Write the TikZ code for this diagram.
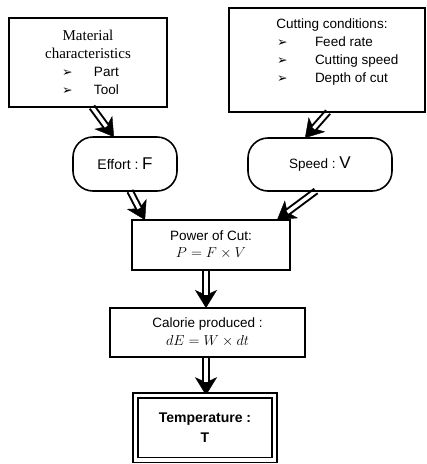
\documentclass[tikz,border=0pt]{standalone}
\usepackage{fontspec}
\setmainfont{Liberation Sans}
\newfontfamily\seriffont{Liberation Serif}
\newfontfamily\symfont{DejaVu Sans}
\usetikzlibrary{arrows.meta,backgrounds}

% arrowhead bullet used in the list boxes
\newcommand{\arrbul}{{\symfont\fontsize{12.5}{12}\selectfont ➢}}

\tikzset{
  box/.style={draw, line width=2pt, inner sep=0pt, outer sep=0pt, align=center,
    font=\fontsize{13.5}{18}\selectfont},
  pill/.style={draw, line width=1.6pt, rounded corners=20pt, inner sep=0pt, outer sep=0pt},
  resultbox/.style={draw, line width=1.5pt, double, double distance=3.5pt,
    inner sep=0pt, outer sep=0pt, align=center, font=\fontsize{14}{20}\selectfont\bfseries},
  shaft/.style={line width=2pt, double=white, double distance=3.5pt, shorten >=13pt},
  tiphead/.style={line width=0.4pt, -{Stealth[length=18pt,width=22pt,inset=5pt]}},
}

\begin{document}
\begin{tikzpicture}[x=1pt, y=1pt]
\useasboundingbox (0,0) rectangle (427,-464);

% inputs
\node[box, minimum width=158pt, minimum height=89pt] (mat) at (88,-62.5)
  {{\seriffont\fontsize{15}{18}\selectfont Material}\\
   {\seriffont\fontsize{15}{18}\selectfont characteristics}\\
   \makebox[52pt][l]{\makebox[32pt][l]{\arrbul}Part}\\
   \makebox[52pt][l]{\makebox[32pt][l]{\arrbul}Tool}};

\node[box, minimum width=196pt, minimum height=104pt] (cut) at (327,-60)
  {\hspace*{10pt}Cutting conditions:\\
   \makebox[100pt][l]{\makebox[38pt][l]{\arrbul}Feed rate}\\
   \makebox[100pt][l]{\makebox[38pt][l]{\arrbul}Cutting speed}\\
   \makebox[100pt][l]{\makebox[38pt][l]{\arrbul}Depth of cut}\\
   \mbox{}};

% intermediate quantities
\node[pill, minimum width=104pt, minimum height=54pt] (eff) at (125,-164)
  {{\fontsize{14}{16}\selectfont Effort :} {\fontsize{17}{20}\selectfont F}};
\node[pill, minimum width=144pt, minimum height=53pt] (spd) at (320,-164.5)
  {{\fontsize{13.5}{16}\selectfont Speed :} {\fontsize{17}{20}\selectfont V}};

\node[box, minimum width=158pt, minimum height=50pt] (pow) at (211,-245)
  {Power of Cut:\\[-1pt] $P = F \times V$};
\node[box, minimum width=195pt, minimum height=49pt] (cal) at (207.5,-332.5)
  {Calorie produced :\\ $dE = W \times dt$};

% result
\node[resultbox, minimum width=139pt, minimum height=64.5pt] (tem) at (205,-427.5)
  {Temperature :\\T};

% double-shafted arrows, drawn beneath the node borders
\begin{scope}[on background layer]
  \foreach \src/\sx/\dst/\dx in {mat/4/eff/-11, eff/5/pow/-66, cut/1/spd/-15,
                                 spd/-4/pow/66, pow/-5/cal/-1.5, cal/-1.5/tem/1} {
    \draw[tiphead] ([xshift=\sx pt]\src.south) -- ([xshift=\dx pt]\dst.north);
    \draw[shaft] ([xshift=\sx pt]\src.south) -- ([xshift=\dx pt]\dst.north);
  }
\end{scope}
\end{tikzpicture}
\end{document}
